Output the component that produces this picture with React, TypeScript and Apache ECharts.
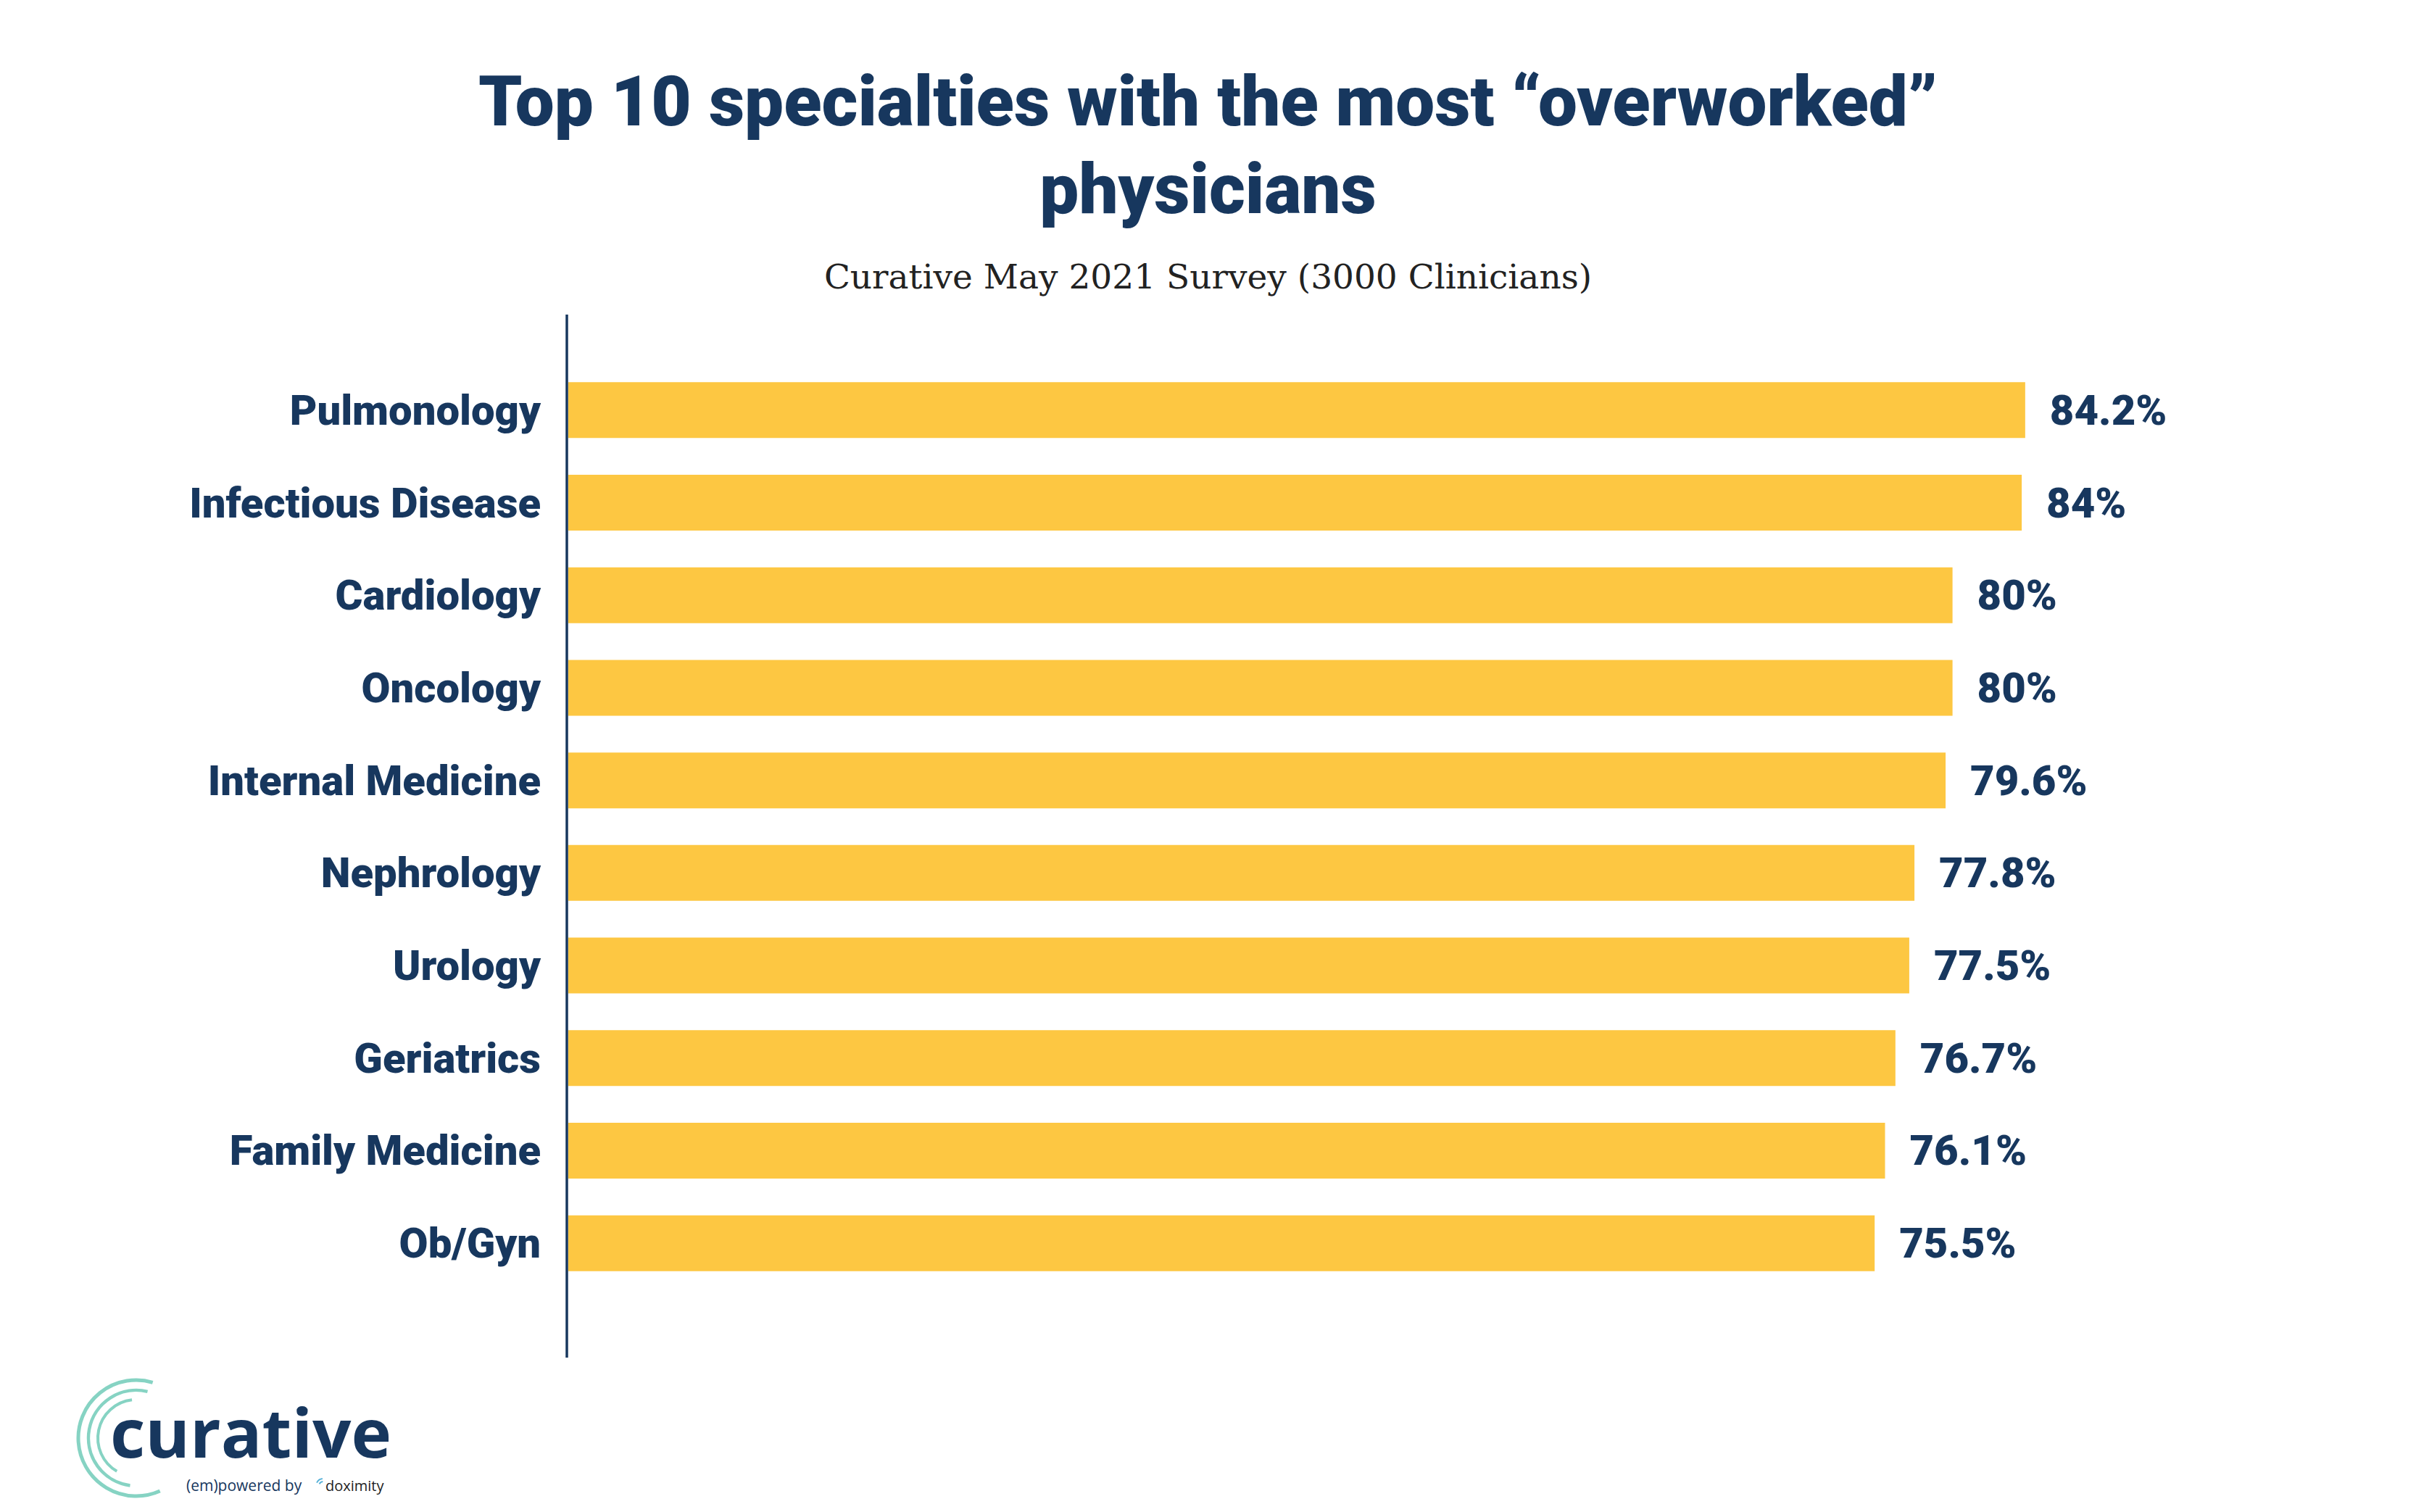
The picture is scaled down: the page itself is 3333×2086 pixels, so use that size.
import React, { useEffect, useRef } from "react";
import * as echarts from "echarts";

const categories = [
  "Pulmonology",
  "Infectious Disease",
  "Cardiology",
  "Oncology",
  "Internal Medicine",
  "Nephrology",
  "Urology",
  "Geriatrics",
  "Family Medicine",
  "Ob/Gyn",
];
const values = [84.2, 84, 80, 80, 79.6, 77.8, 77.5, 76.7, 76.1, 75.5];
const titleText = "Top 10 specialties with the most \u201coverworked\u201d\nphysicians";
const subtitleText = "Curative May 2021 Survey (3000 Clinicians)";

const NAVY = "#17375E";
const YELLOW = "#FDC742";
const TEAL = "#86D3C3";

export default function App() {
  const ref = useRef<HTMLDivElement>(null);
  useEffect(() => {
    document.body.style.margin = "0";
    const chart = echarts.init(ref.current!, null, { renderer: "svg" });
    chart.setOption({
      animation: false,
      backgroundColor: "#ffffff",
      title: [
        {
          text: titleText,
          left: "center",
          top: 74,
          textStyle: {
            fontFamily: "Roboto",
            fontWeight: 900,
            fontSize: 96,
            lineHeight: 121,
            color: NAVY,
          },
        },
        {
          text: subtitleText,
          left: "center",
          top: 348,
          textStyle: {
            fontFamily: "DejaVu Serif",
            fontWeight: "normal",
            fontSize: 47,
            lineHeight: 56,
            color: "#222222",
          },
        },
      ],
      grid: {
        left: 784,
        top: 502,
        width: 2387,
        height: 1277,
        outerBoundsMode: "none",
        containLabel: false,
      },
      xAxis: {
        type: "value",
        min: 0,
        max: 100,
        show: false,
        splitLine: { show: false },
      },
      yAxis: {
        type: "category",
        data: categories,
        inverse: true,
        axisLine: { show: false },
        axisTick: { show: false },
        splitLine: { show: false },
        axisLabel: {
          margin: 38,
          fontFamily: "Roboto",
          fontWeight: 900,
          fontSize: 58,
          color: NAVY,
        },
      },
      series: [
        {
          type: "bar",
          data: values,
          barWidth: 77,
          itemStyle: { color: YELLOW },
          label: {
            show: true,
            position: "right",
            distance: 34,
            formatter: (p: any) => `${p.value}%`,
            fontFamily: "Roboto",
            fontWeight: 900,
            fontSize: 58,
            color: NAVY,
          },
        },
      ],
      graphic: [
        {
          type: "line",
          z: 100,
          shape: { x1: 782, y1: 434, x2: 782, y2: 1873 },
          style: { stroke: NAVY, lineWidth: 3.5 },
        },
        {
          type: "arc",
          shape: { cx: 188, cy: 1984, r: 80, startAngle: 1.15, endAngle: 5.0 },
          style: { stroke: TEAL, lineWidth: 5, fill: "none" },
        },
        {
          type: "arc",
          shape: { cx: 188, cy: 1984, r: 66, startAngle: 1.7, endAngle: 4.95 },
          style: { stroke: TEAL, lineWidth: 4.5, fill: "none" },
        },
        {
          type: "arc",
          shape: { cx: 188, cy: 1984, r: 53, startAngle: 2.1, endAngle: 4.6 },
          style: { stroke: TEAL, lineWidth: 4, fill: "none" },
        },
        {
          type: "text",
          style: {
            text: "curative",
            x: 152,
            y: 1975,
            verticalAlign: "middle",
            fontFamily: "Open Sans",
            fontWeight: 700,
            fontSize: 94,
            lineHeight: 60,
            fill: NAVY,
          },
        },
        {
          type: "text",
          style: {
            text: "(em)powered by",
            x: 257,
            y: 2049,
            verticalAlign: "middle",
            fontFamily: "Open Sans",
            fontWeight: 500,
            fontSize: 21,
            lineHeight: 22,
            fill: NAVY,
          },
        },
        {
          type: "arc",
          shape: { cx: 446, cy: 2050, r: 10, startAngle: 3.6, endAngle: 4.6 },
          style: { stroke: "#5bb3d9", lineWidth: 2, fill: "none" },
        },
        {
          type: "arc",
          shape: { cx: 446, cy: 2050, r: 6, startAngle: 3.6, endAngle: 4.6 },
          style: { stroke: "#5bb3d9", lineWidth: 2, fill: "none" },
        },
        {
          type: "text",
          style: {
            text: "doximity",
            x: 449,
            y: 2049,
            verticalAlign: "middle",
            fontFamily: "Open Sans",
            fontWeight: 500,
            fontSize: 20,
            lineHeight: 22,
            fill: "#222222",
          },
        },
      ],
    });
    return () => chart.dispose();
  }, []);
  return (
    <div
      ref={ref}
      style={{ position: "fixed", left: 0, top: 0, width: 3333, height: 2086 }}
    />
  );
}
